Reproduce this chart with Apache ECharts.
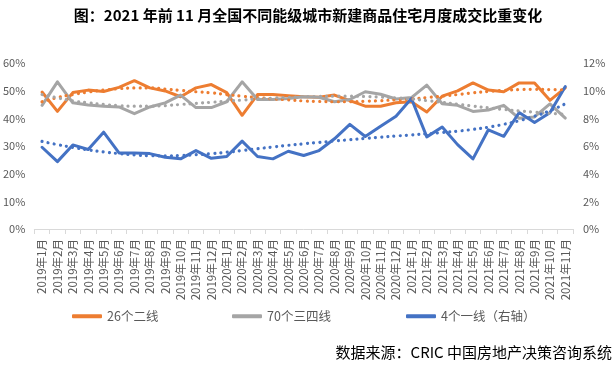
<!DOCTYPE html>
<html><head><meta charset="utf-8">
<script src="https://cdn.jsdelivr.net/npm/echarts@6/dist/echarts.min.js"></script>
<style>html,body{margin:0;padding:0;background:#fff}#c{width:616px;height:368px}</style>
</head><body><div id="c"></div>
<script>
const categories = [];
const years = [2019, 2020, 2021];
const monthsPerYear = [12, 12, 11];
years.forEach((y, k) => { for (let m = 1; m <= monthsPerYear[k]; m++) categories.push(y + '年' + m + '月'); });

const tier2 = [49.5,42.5,49.3,50.2,49.7,51.2,53.6,51.0,49.9,47.8,51.0,52.2,49.3,41.1,48.6,48.6,48.2,47.8,47.6,48.4,46.4,44.4,44.4,45.6,46.0,42.3,48.0,49.9,52.8,50.2,49.6,52.8,52.8,46.5,51.0];
const tier34 = [44.7,53.2,45.6,44.8,44.4,44.1,41.7,44.1,45.6,48.4,43.9,43.9,46.0,53.2,46.8,46.8,47.2,47.8,47.6,46.0,46.8,49.6,48.7,47.0,47.5,52.0,45.3,44.7,42.5,43.0,44.7,40.0,40.5,45.2,40.1];
const tier1 = [5.91,4.87,6.08,5.75,7.0,5.5,5.5,5.45,5.19,5.07,5.67,5.11,5.24,6.35,5.24,5.07,5.62,5.31,5.67,6.52,7.56,6.69,7.42,8.15,9.43,6.66,7.37,6.1,5.07,7.17,6.7,8.42,7.7,8.4,10.3];

const tier2Trend = [46.0,47.5,48.6,49.5,50.2,50.7,51.0,51.0,50.6,50.1,49.6,49.2,48.6,48.0,47.5,47.0,46.7,46.3,46.1,46.0,46.0,46.2,46.4,46.7,47.0,47.5,48.0,48.6,49.2,49.7,50.1,50.4,50.5,50.4,50.3];
const tier34Trend = [48.6,47.4,46.3,45.6,45.0,44.6,44.4,44.4,44.6,45.0,45.4,45.8,46.2,46.6,47.0,47.3,47.6,47.8,47.9,48.0,48.0,47.9,47.7,47.4,47.0,46.4,45.8,45.1,44.4,43.8,43.2,42.7,42.2,41.8,41.5];
const tier1Trend = [6.33,6.1,5.9,5.72,5.57,5.45,5.35,5.3,5.29,5.31,5.37,5.45,5.55,5.67,5.8,5.93,6.05,6.16,6.26,6.36,6.45,6.55,6.64,6.72,6.8,6.88,6.97,7.07,7.2,7.36,7.57,7.83,8.15,8.55,9.05];

const names = ['26个二线', '70个三四线', '4个一线（右轴）'];
const colors = ['#ED7D31', '#A5A5A5', '#4472C4'];
const FONT = '"Noto Sans CJK SC", sans-serif';

const chart = echarts.init(document.getElementById('c'), null, {renderer: 'canvas'});
const mainSeries = (i, data, axis) => ({
  name: names[i], type: 'line', data: data, yAxisIndex: axis, symbol: 'none',
  lineStyle: {color: colors[i], width: 3, cap: 'round', join: 'round'},
  itemStyle: {color: colors[i]}, z: 2 + i, animation: false
});
const trendSeries = (i, data, axis) => ({
  name: names[i] + '趋势', type: 'line', data: data, yAxisIndex: axis, symbol: 'none', smooth: true,
  lineStyle: {color: colors[i], width: 3.2, type: [0.01, 6.2], cap: 'round'},
  itemStyle: {color: colors[i]}, z: 6 + i, animation: false, silent: true
});
const legendBase = (name, left) => ({
  data: [name], left: left, top: 305, icon: 'roundRect', itemWidth: 30, itemHeight: 4, itemGap: 4,
  textStyle: {fontFamily: FONT, fontSize: 12.5, color: '#595959'}
});
chart.setOption({
  animation: false,
  title: {text: '图：2021 年前 11 月全国不同能级城市新建商品住宅月度成交比重变化', left: 'center', top: 3,
    textStyle: {fontFamily: FONT, fontSize: 15, fontWeight: 'bold', color: '#000'}},
  grid: {left: 32, right: 43, top: 63, bottom: 139},
  legend: [legendBase(names[0], 67), legendBase(names[1], 227), legendBase(names[2], 401)],
  xAxis: {type: 'category', data: categories, boundaryGap: true,
    axisLine: {lineStyle: {color: '#D9D9D9', width: 1}},
    axisTick: {show: true, length: 5, lineStyle: {color: '#D9D9D9'}},
    axisLabel: {interval: 0, rotate: 90, margin: 10, fontFamily: FONT, fontSize: 11.5, color: '#595959'}},
  yAxis: [
    {type: 'value', min: 0, max: 60, interval: 10, splitLine: {show: false}, axisLine: {show: false}, axisTick: {show: false},
      axisLabel: {formatter: '{value}%', margin: 9, fontFamily: FONT, fontSize: 11, color: '#595959'}},
    {type: 'value', min: 0, max: 12, interval: 2, splitLine: {show: false}, axisLine: {show: false}, axisTick: {show: false},
      axisLabel: {formatter: '{value}%', margin: 10, fontFamily: FONT, fontSize: 11, color: '#595959'}}
  ],
  graphic: [{type: 'text', right: 4, top: 345,
    style: {text: '数据来源：CRIC 中国房地产决策咨询系统', font: '15px ' + FONT, fill: '#000'}}],
  series: [
    mainSeries(0, tier2, 0), mainSeries(1, tier34, 0), mainSeries(2, tier1, 1),
    trendSeries(0, tier2Trend, 0), trendSeries(1, tier34Trend, 0), trendSeries(2, tier1Trend, 1)
  ]
});
</script></body></html>
